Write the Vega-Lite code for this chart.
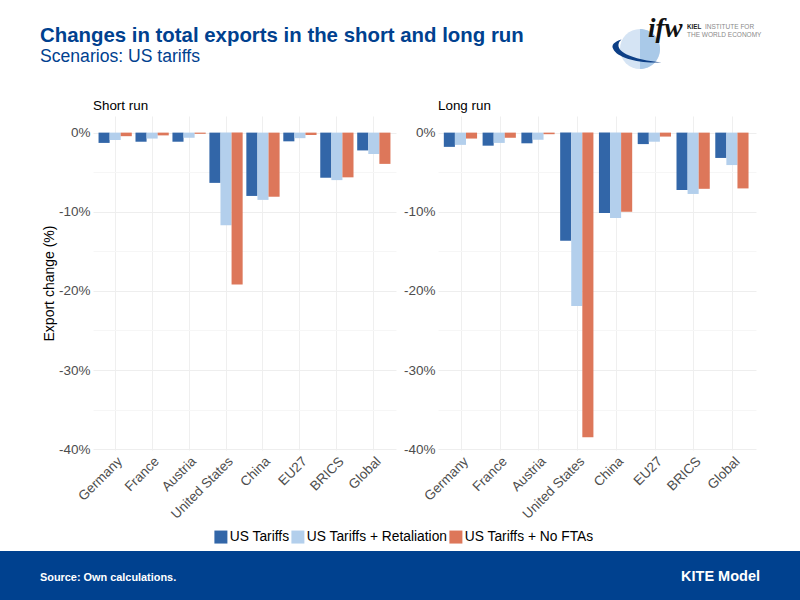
{"$schema":"https://vega.github.io/schema/vega-lite/v6.json","padding":0,"spacing":0,"background":"white","config":{"view":{"stroke":null},"font":"Liberation Sans","concat":{"spacing":0}},
"datasets":{"exports":[
{"panel":"Short run","region":"Germany","scenario":"US Tariffs","value":-1.3},{"panel":"Short run","region":"Germany","scenario":"US Tariffs + Retaliation","value":-0.93},{"panel":"Short run","region":"Germany","scenario":"US Tariffs + No FTAs","value":-0.45},
{"panel":"Short run","region":"France","scenario":"US Tariffs","value":-1.15},{"panel":"Short run","region":"France","scenario":"US Tariffs + Retaliation","value":-0.75},{"panel":"Short run","region":"France","scenario":"US Tariffs + No FTAs","value":-0.35},
{"panel":"Short run","region":"Austria","scenario":"US Tariffs","value":-1.15},{"panel":"Short run","region":"Austria","scenario":"US Tariffs + Retaliation","value":-0.65},{"panel":"Short run","region":"Austria","scenario":"US Tariffs + No FTAs","value":-0.15},
{"panel":"Short run","region":"United States","scenario":"US Tariffs","value":-6.35},{"panel":"Short run","region":"United States","scenario":"US Tariffs + Retaliation","value":-11.7},{"panel":"Short run","region":"United States","scenario":"US Tariffs + No FTAs","value":-19.2},
{"panel":"Short run","region":"China","scenario":"US Tariffs","value":-8.0},{"panel":"Short run","region":"China","scenario":"US Tariffs + Retaliation","value":-8.5},{"panel":"Short run","region":"China","scenario":"US Tariffs + No FTAs","value":-8.1},
{"panel":"Short run","region":"EU27","scenario":"US Tariffs","value":-1.1},{"panel":"Short run","region":"EU27","scenario":"US Tariffs + Retaliation","value":-0.7},{"panel":"Short run","region":"EU27","scenario":"US Tariffs + No FTAs","value":-0.3},
{"panel":"Short run","region":"BRICS","scenario":"US Tariffs","value":-5.7},{"panel":"Short run","region":"BRICS","scenario":"US Tariffs + Retaliation","value":-6.0},{"panel":"Short run","region":"BRICS","scenario":"US Tariffs + No FTAs","value":-5.65},
{"panel":"Short run","region":"Global","scenario":"US Tariffs","value":-2.25},{"panel":"Short run","region":"Global","scenario":"US Tariffs + Retaliation","value":-2.7},{"panel":"Short run","region":"Global","scenario":"US Tariffs + No FTAs","value":-3.95},
{"panel":"Long run","region":"Germany","scenario":"US Tariffs","value":-1.8},{"panel":"Long run","region":"Germany","scenario":"US Tariffs + Retaliation","value":-1.55},{"panel":"Long run","region":"Germany","scenario":"US Tariffs + No FTAs","value":-0.75},
{"panel":"Long run","region":"France","scenario":"US Tariffs","value":-1.65},{"panel":"Long run","region":"France","scenario":"US Tariffs + Retaliation","value":-1.3},{"panel":"Long run","region":"France","scenario":"US Tariffs + No FTAs","value":-0.65},
{"panel":"Long run","region":"Austria","scenario":"US Tariffs","value":-1.35},{"panel":"Long run","region":"Austria","scenario":"US Tariffs + Retaliation","value":-0.9},{"panel":"Long run","region":"Austria","scenario":"US Tariffs + No FTAs","value":-0.2},
{"panel":"Long run","region":"United States","scenario":"US Tariffs","value":-13.65},{"panel":"Long run","region":"United States","scenario":"US Tariffs + Retaliation","value":-21.9},{"panel":"Long run","region":"United States","scenario":"US Tariffs + No FTAs","value":-38.5},
{"panel":"Long run","region":"China","scenario":"US Tariffs","value":-10.15},{"panel":"Long run","region":"China","scenario":"US Tariffs + Retaliation","value":-10.8},{"panel":"Long run","region":"China","scenario":"US Tariffs + No FTAs","value":-10.0},
{"panel":"Long run","region":"EU27","scenario":"US Tariffs","value":-1.45},{"panel":"Long run","region":"EU27","scenario":"US Tariffs + Retaliation","value":-1.15},{"panel":"Long run","region":"EU27","scenario":"US Tariffs + No FTAs","value":-0.5},
{"panel":"Long run","region":"BRICS","scenario":"US Tariffs","value":-7.25},{"panel":"Long run","region":"BRICS","scenario":"US Tariffs + Retaliation","value":-7.75},{"panel":"Long run","region":"BRICS","scenario":"US Tariffs + No FTAs","value":-7.1},
{"panel":"Long run","region":"Global","scenario":"US Tariffs","value":-3.2},{"panel":"Long run","region":"Global","scenario":"US Tariffs + Retaliation","value":-4.1},{"panel":"Long run","region":"Global","scenario":"US Tariffs + No FTAs","value":-7.05}
]},
"vconcat":[
{"width":800,"height":98,"title":{"text":"Changes in total exports in the short and long run","subtitle":"Scenarios: US tariffs","anchor":"start","frame":"group","dx":40,"offset":-66,"fontSize":20.4,"fontWeight":"bold","color":"#00418f","subtitleFontSize":17.6,"subtitleColor":"#00418f","subtitleFontWeight":"normal","subtitlePadding":2},
"layer":[
{"data":{"values":[{"part":"globe"}]},"mark":{"type":"point","shape":"circle","filled":true,"size":1600,"color":"#d5e4f4","opacity":1},"encoding":{"x":{"datum":640,"scale":{"domain":[0,800],"range":[0,800]},"axis":null},"y":{"datum":50,"scale":{"domain":[0,98],"range":[0,98]},"axis":null}}},
{"data":{"values":[{"part":"globe shade"}]},"mark":{"type":"point","shape":"M0,-1 A1,1 0 0 1 0,1 Z","filled":true,"size":1600,"color":"#a9c9e8","opacity":1},"encoding":{"x":{"datum":640},"y":{"datum":50}}},
{"data":{"values":[{"part":"swoosh"}]},"mark":{"type":"point","shape":"M-0.62,-0.38 C-0.9,-0.3 -1.05,-0.15 -0.95,0 C-0.8,0.35 0.1,0.6 0.98,0.53 C0.2,0.48 -0.6,0.25 -0.72,-0.05 C-0.78,-0.2 -0.7,-0.32 -0.62,-0.38 Z","filled":true,"size":2500,"color":"#0d3f86","opacity":1},"encoding":{"x":{"datum":637},"y":{"datum":50}}},
{"data":{"values":[{"label":"ifw"}]},"mark":{"type":"text","align":"left","baseline":"alphabetic","font":"Liberation Serif","fontStyle":"italic","fontWeight":"bold","fontSize":27,"color":"#111111"},"encoding":{"x":{"datum":648},"y":{"datum":38},"text":{"field":"label"}}},
{"data":{"values":[{"label":"KIEL"}]},"mark":{"type":"text","align":"left","baseline":"alphabetic","fontWeight":"bold","fontSize":6.3,"color":"#222222"},"encoding":{"x":{"datum":687},"y":{"datum":30},"text":{"field":"label"}}},
{"data":{"values":[{"label":"INSTITUTE FOR"}]},"mark":{"type":"text","align":"left","baseline":"alphabetic","fontSize":6.5,"color":"#8a8a8a"},"encoding":{"x":{"datum":705},"y":{"datum":30},"text":{"field":"label"}}},
{"data":{"values":[{"label":"THE WORLD ECONOMY"}]},"mark":{"type":"text","align":"left","baseline":"alphabetic","fontSize":6.5,"color":"#8a8a8a"},"encoding":{"x":{"datum":687},"y":{"datum":38},"text":{"field":"label"}}}
]},
{"hconcat":[
{"width":35,"height":10,"data":{"values":[]},"mark":"point"},
{"width":303,"height":334,"title":{"text":"Short run","anchor":"start","frame":"group","fontSize":13.4,"fontWeight":"normal","color":"#000000","offset":4},"data":{"name":"exports"},"transform":[{"filter":"datum.panel === 'Short run'"}],"mark":"bar","encoding":{
"x":{"field":"region","type":"nominal","sort":["Germany","France","Austria","United States","China","EU27","BRICS","Global"],"scale":{"paddingInner":0.1,"paddingOuter":0.15},"axis":{"title":null,"labelAngle":-45,"labelAlign":"right","labelBaseline":"top","labelFontSize":13.5,"labelColor":"#4d4d4d","ticks":false,"domain":false,"labelPadding":4,"grid":true,"gridColor":"#efefef","gridWidth":1}},
"xOffset":{"field":"scenario","type":"nominal","sort":["US Tariffs","US Tariffs + Retaliation","US Tariffs + No FTAs"]},
"y":{"field":"value","type":"quantitative","scale":{"domain":[-40.1,2.1],"nice":false,"zero":false},"axis":{"title":"Export change (%)","titleFontSize":14,"titleFontWeight":"normal","titleColor":"#000000","titlePadding":2,"values":[-40,-35,-30,-25,-20,-15,-10,-5,0],"labelExpr":"datum.value % 10 === 0 ? datum.value + '%' : ''","labelFontSize":13.5,"labelColor":"#4d4d4d","labelPadding":3,"ticks":false,"domain":false,"grid":true,"gridColor":{"condition":{"test":"datum.value % 10 === 0","value":"#eeeeee"},"value":"#f6f6f6"},"gridWidth":1}},
"color":{"field":"scenario","type":"nominal","scale":{"domain":["US Tariffs","US Tariffs + Retaliation","US Tariffs + No FTAs"],"range":["#3266a8","#b3cfec","#dd775a"]},"legend":null}
}},
{"width":318,"height":334,"title":{"text":"Long run","anchor":"start","frame":"group","fontSize":13.4,"fontWeight":"normal","color":"#000000","offset":4},"data":{"name":"exports"},"transform":[{"filter":"datum.panel === 'Long run'"}],"mark":"bar","encoding":{
"x":{"field":"region","type":"nominal","sort":["Germany","France","Austria","United States","China","EU27","BRICS","Global"],"scale":{"paddingInner":0.1,"paddingOuter":0.15},"axis":{"title":null,"labelAngle":-45,"labelAlign":"right","labelBaseline":"top","labelFontSize":13.5,"labelColor":"#4d4d4d","ticks":false,"domain":false,"labelPadding":4,"grid":true,"gridColor":"#efefef","gridWidth":1}},
"xOffset":{"field":"scenario","type":"nominal","sort":["US Tariffs","US Tariffs + Retaliation","US Tariffs + No FTAs"]},
"y":{"field":"value","type":"quantitative","scale":{"domain":[-40.1,2.1],"nice":false,"zero":false},"axis":{"title":null,"values":[-40,-35,-30,-25,-20,-15,-10,-5,0],"labelExpr":"datum.value % 10 === 0 ? datum.value + '%' : ''","labelFontSize":13.5,"labelColor":"#4d4d4d","labelPadding":3,"ticks":false,"domain":false,"grid":true,"gridColor":{"condition":{"test":"datum.value % 10 === 0","value":"#eeeeee"},"value":"#f6f6f6"},"gridWidth":1}},
"color":{"field":"scenario","type":"nominal","scale":{"domain":["US Tariffs","US Tariffs + Retaliation","US Tariffs + No FTAs"],"range":["#3266a8","#b3cfec","#dd775a"]},"legend":null}
}}
],"spacing":7,"resolve":{"scale":{"color":"independent","x":"independent","y":"independent"},"legend":{"color":"independent"}}},
{"width":800,"height":30,"data":{"name":"exports"},"transform":[{"filter":"false"}],"mark":"bar","encoding":{"color":{"field":"scenario","type":"nominal","scale":{"domain":["US Tariffs","US Tariffs + Retaliation","US Tariffs + No FTAs"],"range":["#3266a8","#b3cfec","#dd775a"]},"legend":{"title":null,"orient":"none","direction":"horizontal","columns":3,"legendX":214,"legendY":9,"symbolType":"square","symbolSize":169,"symbolStrokeWidth":0,"symbolOpacity":1,"labelFontSize":13.8,"labelColor":"#000000","labelOffset":2,"columnPadding":1,"padding":0}}}},
{"width":800,"height":49,"view":{"fill":"#00418f","stroke":null},"layer":[
{"data":{"values":[{"label":"Source: Own calculations."}]},"mark":{"type":"text","align":"left","baseline":"middle","fontWeight":"bold","fontSize":10.9,"color":"#ffffff"},"encoding":{"x":{"datum":40,"scale":{"domain":[0,800],"range":[0,800]},"axis":null},"y":{"datum":27.5,"scale":{"domain":[0,49],"range":[0,49]},"axis":null},"text":{"field":"label"}}},
{"data":{"values":[{"label":"KITE Model"}]},"mark":{"type":"text","align":"right","baseline":"middle","fontWeight":"bold","fontSize":14.5,"color":"#ffffff"},"encoding":{"x":{"datum":760},"y":{"datum":27},"text":{"field":"label"}}}
]}
],"resolve":{"scale":{"color":"independent"},"legend":{"color":"independent"}}}
